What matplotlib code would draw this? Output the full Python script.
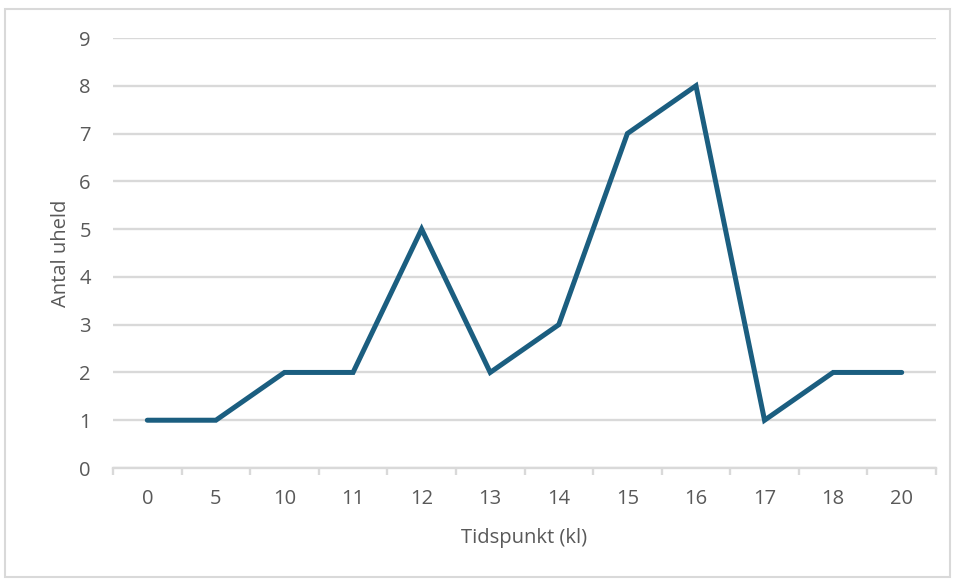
import matplotlib
matplotlib.use("Agg")
import matplotlib.pyplot as plt
from matplotlib.patches import Rectangle
import numpy as np

categories = ["0", "5", "10", "11", "12", "13", "14", "15", "16", "17", "18", "20"]
values = [1, 1, 2, 2, 5, 2, 3, 7, 8, 1, 2, 2]
yticks = list(range(0, 10))

plt.rcParams['font.family'] = ['Open Sans', 'DejaVu Sans']

W, H = 955, 580
fig = plt.figure(figsize=(W/100, H/100), dpi=100)
ax = fig.add_axes([113/W, 1-468/H, (936-113)/W, (468-38)/H])

x = np.arange(len(categories))
ax.plot(x, values, color="#1b5e80", lw=3.6, solid_joinstyle="miter", solid_capstyle="round", zorder=3)

ax.set_xlim(-0.5, len(categories)-0.5)
ax.set_ylim(0, 9)
ax.set_yticks(yticks)
ax.set_yticklabels([str(v) for v in yticks])
ax.set_xticks(x)
ax.set_xticklabels(categories)
ax.set_xticks(np.arange(-0.5, len(categories), 1.0), minor=True)

ax.grid(axis="y", color="#d9d9d9", lw=1.7, zorder=0)
ax.set_axisbelow(True)
for s in ["top", "right", "left"]:
    ax.spines[s].set_visible(False)
ax.spines["bottom"].set_color("#d9d9d9")
ax.spines["bottom"].set_linewidth(1.7)

fs = 14.5
ax.tick_params(axis="y", length=0, pad=16, labelsize=fs, labelcolor="#595959")
ax.tick_params(axis="x", which="major", length=0, pad=15, labelsize=fs, labelcolor="#595959")
ax.tick_params(axis="x", which="minor", length=5, width=1.7, color="#d9d9d9")

ax.set_xlabel("Tidspunkt (kl)", fontsize=fs, color="#595959", labelpad=14)
ax.set_ylabel("Antal uheld", fontsize=fs, color="#595959", labelpad=6)

fig.patches.append(Rectangle((5/W, 1-577/H), (950-5)/W, (577-9)/H, transform=fig.transFigure,
                             fill=False, edgecolor="#d9d9d9", lw=1.5))

fig.savefig("out.png", dpi=100)
